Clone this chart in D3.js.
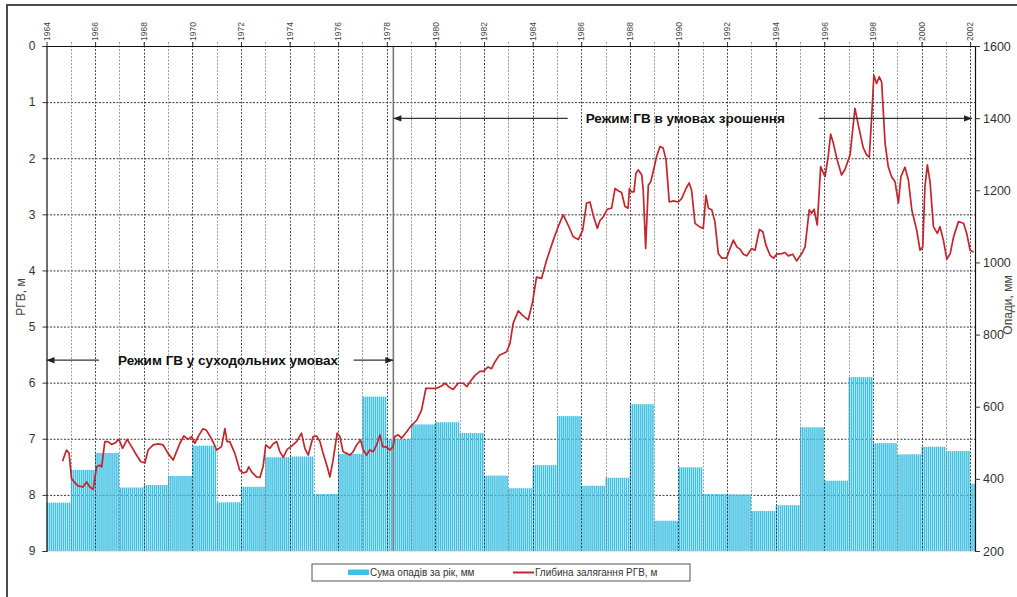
<!DOCTYPE html>
<html><head><meta charset="utf-8">
<script src="https://cdn.jsdelivr.net/npm/d3@7"></script>
<style>
body{margin:0;background:#fff;}
text{font-family:"Liberation Sans", Arial, sans-serif;}
</style>
</head><body>
<svg id="c" width="1017" height="597"></svg>
<script>
// ---------- DATA ----------
const years = [1964,1965,1966,1967,1968,1969,1970,1971,1972,1973,1974,1975,1976,1977,1978,1979,1980,1981,1982,1983,1984,1985,1986,1987,1988,1989,1990,1991,1992,1993,1994,1995,1996,1997,1998,1999,2000,2001,2002];
const precip = [334,425,472,376,383,408,492,335,378,460,462,358,469,628,510,551,557,527,409,374,438,574,381,403,607,284,432,358,357,311,327,543,395,682,499,468,489,477,386];
const yearLabels = [1964,1966,1968,1970,1972,1974,1976,1978,1980,1982,1984,1986,1988,1990,1992,1994,1996,1998,2000,2002];
const depthTicks = [0,1,2,3,4,5,6,7,8,9];
const precipTicks = [200,400,600,800,1000,1200,1400,1600];
const depthTime = [1964.66,1964.82,1964.93,1965.03,1965.16,1965.30,1965.50,1965.65,1965.78,1965.92,1966.06,1966.19,1966.27,1966.40,1966.53,1966.67,1966.80,1966.98,1967.13,1967.32,1967.50,1967.70,1967.88,1968.05,1968.18,1968.39,1968.60,1968.80,1969.00,1969.21,1969.35,1969.49,1969.65,1969.83,1969.97,1970.10,1970.28,1970.44,1970.58,1970.72,1970.88,1971.00,1971.20,1971.34,1971.43,1971.54,1971.75,1971.95,1972.09,1972.23,1972.32,1972.44,1972.64,1972.78,1972.91,1973.02,1973.19,1973.33,1973.47,1973.60,1973.74,1973.90,1974.08,1974.29,1974.49,1974.63,1974.77,1974.97,1975.11,1975.25,1975.38,1975.55,1975.66,1975.79,1975.96,1976.07,1976.20,1976.35,1976.48,1976.62,1976.76,1976.92,1977.03,1977.17,1977.30,1977.44,1977.58,1977.72,1977.83,1977.99,1978.13,1978.26,1978.33,1978.47,1978.61,1978.81,1979.02,1979.23,1979.43,1979.61,1979.84,1980.05,1980.25,1980.39,1980.57,1980.73,1980.94,1981.14,1981.30,1981.45,1981.63,1981.83,1981.97,1982.17,1982.31,1982.45,1982.63,1982.79,1982.93,1983.07,1983.20,1983.41,1983.59,1983.82,1984.00,1984.16,1984.37,1984.58,1984.85,1985.05,1985.26,1985.46,1985.67,1985.88,1986.06,1986.22,1986.36,1986.49,1986.66,1986.77,1986.90,1987.07,1987.25,1987.39,1987.52,1987.66,1987.80,1987.93,1987.98,1988.07,1988.17,1988.25,1988.35,1988.49,1988.55,1988.65,1988.76,1988.86,1988.96,1989.10,1989.24,1989.37,1989.49,1989.62,1989.79,1989.99,1990.13,1990.31,1990.44,1990.54,1990.68,1990.86,1991.02,1991.13,1991.23,1991.37,1991.50,1991.64,1991.78,1991.98,1992.12,1992.26,1992.40,1992.53,1992.67,1992.81,1993.01,1993.15,1993.33,1993.47,1993.60,1993.77,1993.91,1994.04,1994.25,1994.38,1994.52,1994.70,1994.86,1995.07,1995.21,1995.38,1995.48,1995.58,1995.71,1995.85,1996.03,1996.16,1996.26,1996.37,1996.53,1996.71,1996.85,1997.06,1997.26,1997.40,1997.60,1997.74,1997.85,1997.95,1998.04,1998.15,1998.26,1998.36,1998.50,1998.63,1998.77,1998.91,1999.05,1999.15,1999.32,1999.46,1999.60,1999.80,1999.94,2000.05,2000.14,2000.24,2000.35,2000.49,2000.65,2000.76,2000.90,2001.04,2001.18,2001.32,2001.52,2001.73,2001.86,2002.00,2002.14];
const depthValue = [7.40,7.20,7.26,7.71,7.78,7.84,7.86,7.77,7.86,7.90,7.50,7.47,7.50,7.05,7.05,7.10,7.08,7.01,7.17,7.01,7.14,7.29,7.41,7.43,7.20,7.11,7.09,7.11,7.26,7.38,7.23,7.08,6.95,7.01,6.96,7.08,6.93,6.82,6.85,6.95,7.08,7.20,7.14,6.82,7.05,7.05,7.26,7.56,7.61,7.59,7.50,7.59,7.68,7.69,7.50,7.11,7.17,7.09,7.05,7.23,7.33,7.19,7.13,7.05,6.90,7.17,7.29,6.96,6.95,7.05,7.26,7.50,7.68,7.38,6.90,6.96,7.23,7.26,7.29,7.23,7.11,7.02,7.20,7.29,7.20,7.23,7.11,6.93,7.14,7.15,7.20,7.14,6.96,6.93,6.99,6.88,6.76,6.67,6.49,6.10,6.10,6.10,6.06,6.01,6.08,6.12,6.01,6.01,6.07,5.97,5.87,5.80,5.80,5.72,5.75,5.63,5.51,5.48,5.45,5.30,4.94,4.72,4.80,4.88,4.56,4.12,4.14,3.81,3.46,3.22,3.01,3.19,3.40,3.45,3.28,2.80,2.78,3.01,3.25,3.11,3.05,2.91,2.89,2.54,2.58,2.61,2.86,2.89,2.54,2.60,2.60,2.27,2.21,2.30,2.57,3.61,2.48,2.42,2.24,1.97,1.79,1.82,2.03,2.78,2.76,2.78,2.72,2.54,2.44,2.57,3.16,3.22,3.25,2.66,2.89,2.92,3.13,3.70,3.78,3.78,3.61,3.46,3.58,3.62,3.71,3.74,3.61,3.64,3.27,3.31,3.55,3.73,3.78,3.71,3.70,3.68,3.74,3.71,3.83,3.70,3.58,2.92,2.98,2.91,3.19,2.15,2.33,1.97,1.57,1.73,2.03,2.30,2.20,1.94,1.11,1.41,1.81,1.94,1.98,1.26,0.52,0.67,0.55,0.64,1.73,2.15,2.33,2.42,2.80,2.33,2.16,2.39,2.92,3.28,3.64,3.58,2.51,2.12,2.42,3.22,3.34,3.22,3.46,3.80,3.70,3.40,3.13,3.16,3.34,3.64,3.67];
const regimeDivider = 1978.27;
const seriesNames = ["Сума опадів за рік, мм","Глибина залягання РГВ, м"];
const regimeLabels = ["Режим ГВ у суходольних умовах","Режим ГВ в умовах зрошення"];

// ---------- LAYOUT ----------
const L = 46.5, R = 975, T = 46, B = 551;
const svg = d3.select("#c");
const x = d3.scaleLinear().domain([1964, 2002.2]).range([L, R]);
const yL = d3.scaleLinear().domain([0, 9]).range([T, B]);
const yR = d3.scaleLinear().domain([200, 1600]).range([B, T]);
const barColor = "#40c1e3", lineColor = "#c3252c";

svg.append("rect").attr("width",1017).attr("height",597).attr("fill","#fff");
// outer frame
svg.append("rect").attr("x",7).attr("y",5).attr("width",1030).attr("height",620)
  .attr("fill","none").attr("stroke","#4a4a4a").attr("stroke-width",2);

svg.append("clipPath").attr("id","pc").append("rect")
  .attr("x",L).attr("y",T).attr("width",R-L).attr("height",B-T);

// horizontal grid (behind bars)
svg.append("g").selectAll("line").data(depthTicks.slice(1,-1)).join("line")
  .attr("x1",L).attr("x2",R).attr("y1",d=>yL(d)+0.5).attr("y2",d=>yL(d)+0.5)
  .attr("stroke","#222").attr("stroke-width",0.9).attr("stroke-dasharray","2,1.5");

// monthly striped bars carrying the annual sum
const months = d3.range(12);
const barG = svg.append("g").attr("clip-path","url(#pc)");
years.forEach((yr,i)=>{
  barG.selectAll(null).data(months).join("rect")
    .attr("x",m=>x(yr+m/12))
    .attr("width",m=>x(yr+(m+1)/12)-x(yr+m/12)-0.5)
    .attr("y",yR(precip[i]))
    .attr("height",yR(200)-yR(precip[i]))
    .attr("fill",barColor);
});

// vertical grid (over bars)
const gridYears = years.slice(1);
svg.append("g").selectAll("line").data(gridYears).join("line")
  .attr("x1",d=>Math.round(x(d))+0.5).attr("x2",d=>Math.round(x(d))+0.5)
  .attr("y1",T-4).attr("y2",B)
  .attr("stroke",d=>d%2===0?"#1a1a1a":"#777")
  .attr("stroke-opacity",d=>d%2===0?0.85:0.8)
  .attr("stroke-width",0.9).attr("stroke-dasharray","2,1.5");

// regime divider
svg.append("line").attr("x1",x(regimeDivider)).attr("x2",x(regimeDivider))
  .attr("y1",T).attr("y2",B).attr("stroke","#7a7a7a").attr("stroke-width",1.6);

// axes frame
svg.append("line").attr("x1",L).attr("x2",R).attr("y1",T+0.5).attr("y2",T+0.5).attr("stroke","#111").attr("stroke-width",1.2);
svg.append("line").attr("x1",L).attr("x2",R).attr("y1",B).attr("y2",B).attr("stroke","#bbb").attr("stroke-width",0.8);

// left axis
const axL = svg.append("g").attr("transform",`translate(${L},0)`)
  .call(d3.axisLeft(yL).tickValues(depthTicks).tickSize(4).tickPadding(7).tickFormat(d3.format("d")));
axL.select(".domain").attr("stroke","#111").attr("stroke-width",1.2);
axL.selectAll(".tick line").attr("stroke","#333");
axL.selectAll("text").attr("font-size",12).attr("fill","#333").style("font-family","Liberation Sans, Arial");

// right axis
const axR = svg.append("g").attr("transform",`translate(${R},0)`)
  .call(d3.axisRight(yR).tickValues(precipTicks).tickSize(5).tickPadding(3).tickFormat(d3.format("d")));
axR.select(".domain").attr("stroke","#111").attr("stroke-width",1.2);
axR.selectAll(".tick line").attr("stroke","#333");
axR.selectAll("text").attr("font-size",12.5).attr("fill","#333").style("font-family","Liberation Sans, Arial");

// top axis with rotated year labels
const axT = svg.append("g").attr("transform",`translate(0,${T})`)
  .call(d3.axisTop(x).tickValues(yearLabels).tickSize(4).tickFormat(d3.format("d")));
axT.select(".domain").remove();
axT.selectAll(".tick line").attr("stroke","#333");
axT.selectAll("text").attr("transform","rotate(-90)").attr("x",5).attr("y",0)
  .attr("dy","0.32em").attr("text-anchor","start")
  .attr("font-size",8.5).attr("fill","#444").style("font-family","Liberation Sans, Arial");

// axis titles
svg.append("text").attr("transform","translate(25,297) rotate(-90)").attr("text-anchor","middle")
  .attr("font-size",12).attr("fill","#444").text("РГВ, м");
svg.append("text").attr("transform","translate(1012,305) rotate(-90)").attr("text-anchor","middle")
  .attr("font-size",12).attr("fill","#444").text("Опади, мм");

// depth line
const pts = depthTime.map((t,i)=>[t, depthValue[i]]);
svg.append("path").datum(pts)
  .attr("d", d3.line().x(d=>x(d[0])).y(d=>yL(d[1])))
  .attr("fill","none").attr("stroke",lineColor).attr("stroke-width",1.7).attr("stroke-linejoin","round");

// regime annotations
function arrowHead(xTip, y, dir){
  svg.append("path")
    .attr("d",`M${xTip},${y} L${xTip-dir*8},${y-3.2} L${xTip-dir*8},${y+3.2} Z`)
    .attr("fill","#222");
}
function regime(label, y0, y1, depthLevel, centerYear, gapL, gapR){
  const yy = yL(depthLevel);
  const t = svg.append("text").attr("x",x(centerYear)).attr("y",yy+4.5).attr("text-anchor","middle")
    .attr("font-size",13.5).attr("font-weight","bold").attr("fill","#111").text(label);
  const bb = t.node().getBBox();
  svg.append("line").attr("x1",x(y0)).attr("x2",bb.x-gapL).attr("y1",yy).attr("y2",yy)
    .attr("stroke","#333").attr("stroke-width",1.2);
  svg.append("line").attr("x1",bb.x+bb.width+gapR).attr("x2",x(y1)).attr("y1",yy).attr("y2",yy)
    .attr("stroke","#333").attr("stroke-width",1.2);
  arrowHead(x(y0), yy, -1);
  arrowHead(x(y1), yy, 1);
}
regime(regimeLabels[0], 1964, regimeDivider, 5.6, 1971.47, 19, 15);
regime(regimeLabels[1], regimeDivider, 2002.08, 1.29, 1990.28, 18, 34);

// legend
const lg = svg.append("g");
lg.append("rect").attr("x",312).attr("y",564).attr("width",378).attr("height",17)
  .attr("fill","#fff").attr("stroke","#555").attr("stroke-width",1);
lg.append("rect").attr("x",348).attr("y",569.5).attr("width",21).attr("height",5.5).attr("fill",barColor);
lg.append("text").attr("x",370).attr("y",576).attr("font-size",10).attr("fill","#333").text(seriesNames[0]);
lg.append("line").attr("x1",513).attr("x2",534).attr("y1",572.5).attr("y2",572.5).attr("stroke",lineColor).attr("stroke-width",2);
lg.append("text").attr("x",535).attr("y",576).attr("font-size",10).attr("fill","#333").text(seriesNames[1]);
</script>
</body></html>
